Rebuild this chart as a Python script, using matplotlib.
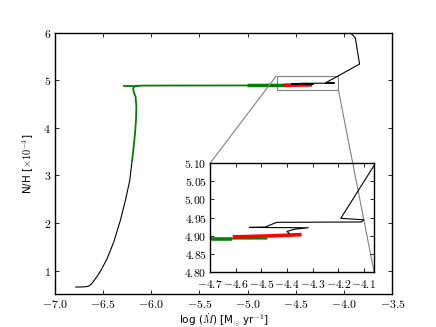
import matplotlib
matplotlib.use('Agg')
import matplotlib.pyplot as plt
from matplotlib.ticker import FuncFormatter
from mpl_toolkits.axes_grid1.inset_locator import mark_inset
import numpy as np

plt.rcParams['mathtext.fontset'] = 'cm'
plt.rcParams['font.family'] = 'DejaVu Sans'

# early phase (black)
x_pre = [-6.78, -6.72, -6.68, -6.65, -6.62, -6.59, -6.555, -6.52, -6.455, -6.386,
         -6.317, -6.265, -6.22, -6.196]
y_pre = [0.653, 0.655, 0.658, 0.668, 0.71, 0.79, 0.89, 1.00, 1.25, 1.60,
         2.06, 2.48, 2.90, 3.32]

# rise + plateau (green)
x_green = [-6.196, -6.18, -6.165, -6.155, -6.152, -6.16, -6.18, -6.185, -6.17, -6.14,
           -6.05, -5.90, -5.50, -5.00, -4.70, -4.48]
y_green = [3.32, 3.60, 3.90, 4.20, 4.45, 4.65, 4.76, 4.83, 4.87, 4.885,
           4.888, 4.889, 4.890, 4.891, 4.892, 4.892]
x_green_stub = [-6.28, -6.14]
y_green_stub = [4.888, 4.888]
x_green_thick = [-5.00, -4.80, -4.615]
y_green_thick = [4.890, 4.891, 4.891]

# red phase
x_red = [-4.605, -4.55, -4.45, -4.35]
y_red = [4.897, 4.898, 4.900, 4.903]

# late phase (black)
x_post = [-4.39, -4.40, -4.37, -4.317, -4.547, -4.486, -4.44, -4.11, -4.10, -4.19,
          -3.84, -3.884, -3.936, -3.96]
y_post = [4.905, 4.912, 4.918, 4.922, 4.923, 4.924, 4.937, 4.938, 4.944, 4.948,
          5.34, 5.89, 6.00, 6.05]

main_xticks = np.arange(-7.0, -3.49, 0.5)
main_yticks = [1, 2, 3, 4, 5, 6]
ins_xticks = np.arange(-4.7, -4.05, 0.1)
ins_yticks = np.arange(4.80, 5.101, 0.05)


def draw_track(ax):
  ax.plot(x_pre, y_pre, color='k', lw=0.8)
  ax.plot(x_green_stub, y_green_stub, color='g', lw=1.3)
  ax.plot(x_green, y_green, color='g', lw=1.3)
  ax.plot(x_green_thick, y_green_thick, color='g', lw=2.5, solid_capstyle='butt')
  ax.plot(x_red, y_red, color='r', lw=2.6)
  ax.plot(x_post, y_post, color='k', lw=0.8)


def style_ticks(ax, xfmt, yfmt, size=8.8, xpad=3.5):
  ax.tick_params(direction='in', top=True, right=True, length=3, width=0.6,
                 labelsize=size, pad=2.5)
  ax.tick_params(axis='x', pad=xpad)
  ax.xaxis.set_major_formatter(FuncFormatter(lambda v, p: "$" + (xfmt % v) + "$"))
  ax.yaxis.set_major_formatter(FuncFormatter(lambda v, p: "$" + (yfmt % v) + "$"))
  for sp in ax.spines.values():
    sp.set_linewidth(1.0)


fig = plt.figure(figsize=(4.36, 3.27), dpi=100)
ax = fig.add_axes([0.125, 0.1, 0.775, 0.8])
draw_track(ax)
ax.set_xlim(-7.0, -3.5)
ax.set_ylim(0.5, 6.0)
ax.set_xticks(main_xticks)
ax.set_yticks(main_yticks)
style_ticks(ax, "%.1f", "%d", size=8.5, xpad=2.5)
ax.set_xlabel(r'log ($\dot{M}$) [M$_{\odot}$ yr$^{-1}$]', fontsize=7.5)
ax.xaxis.set_label_coords(0.5, -0.064)
ax.set_ylabel(r'N/H [$\times 10^{-4}$]', fontsize=7.5, labelpad=5)

axins = fig.add_axes([0.482, 0.168, 0.376, 0.333])
draw_track(axins)
axins.set_xlim(-4.7, -4.06)
axins.set_ylim(4.80, 5.10)
axins.set_xticks(ins_xticks)
axins.set_yticks(ins_yticks)
style_ticks(axins, "%.1f", "%.2f", size=8.4, xpad=4.5)

mark_inset(ax, axins, loc1=2, loc2=4, fc='none', ec='0.5', lw=0.8)

plt.savefig('out.png', dpi=100)
plt.close()
